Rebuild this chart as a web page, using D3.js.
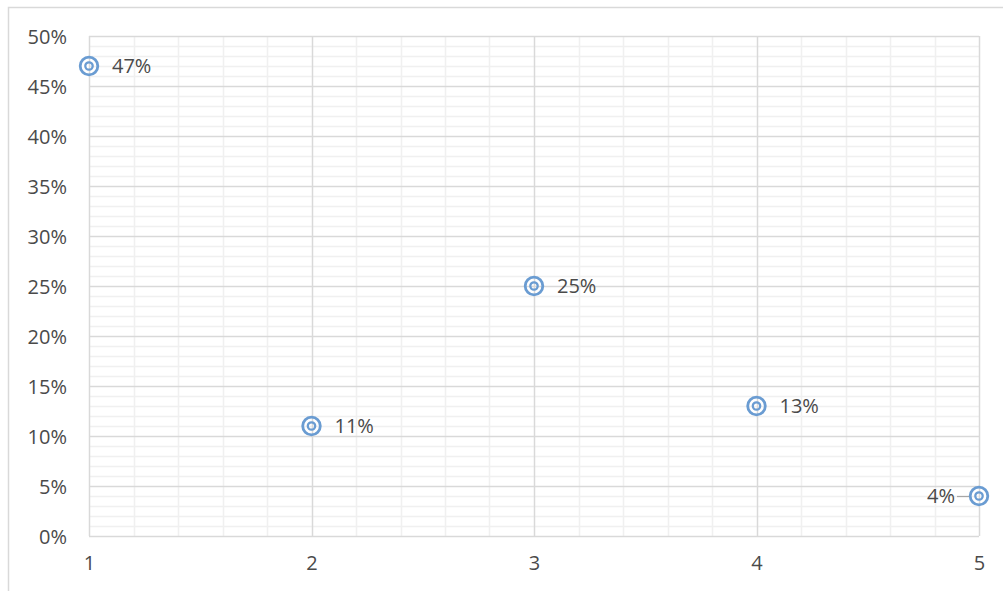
<!DOCTYPE html>
<html>
<head>
<meta charset="utf-8">
<script src="https://cdn.jsdelivr.net/npm/d3@7"></script>
<style>
  html, body { margin: 0; padding: 0; background: #fff; }
  svg { display: block; }
  text { font-family: "Open Sans", "Noto Sans", sans-serif; fill: #4a4a4a; }
</style>
</head>
<body>
<svg id="chart" width="1003" height="591"></svg>
<script>
// Series data
const xValues = [1, 2, 3, 4, 5];
const yValues = [0.47, 0.11, 0.25, 0.13, 0.04];
const labelSide = ["right", "right", "right", "right", "left"];

// Axis ticks
const xTicks = [1, 2, 3, 4, 5];
const yTicks = [0, 0.05, 0.10, 0.15, 0.20, 0.25, 0.30, 0.35, 0.40, 0.45, 0.50];

const W = 1003, H = 591;
const plot = { left: 89, right: 979, top: 36, bottom: 536 };
const fontSize = "20px";
const textColor = "#4a4a4a";

const svg = d3.select("#chart");

// Chart area border
svg.append("rect")
  .attr("x", 8.5).attr("y", 7.5)
  .attr("width", W + 10).attr("height", H + 10)
  .attr("fill", "#fff")
  .attr("stroke", "#d9d9d9").attr("stroke-width", 1.5);

const x = d3.scaleLinear().domain([1, 5]).range([plot.left, plot.right]);
const y = d3.scaleLinear().domain([0, 0.5]).range([plot.bottom, plot.top]);

const grid = svg.append("g");

// Minor gridlines
const xMinor = d3.range(1, 5.0001, 0.2).filter(v => Math.abs(v - Math.round(v)) > 1e-6);
const yMinor = d3.range(0, 0.5001, 0.01).filter(v => Math.abs(v * 20 - Math.round(v * 20)) > 1e-6);

grid.selectAll(".xminor").data(xMinor).join("line")
  .attr("x1", d => Math.round(x(d)) + 0.5).attr("x2", d => Math.round(x(d)) + 0.5)
  .attr("y1", plot.top).attr("y2", plot.bottom)
  .attr("stroke", "#f0f0f0").attr("stroke-width", 1.5);

grid.selectAll(".yminor").data(yMinor).join("line")
  .attr("x1", plot.left).attr("x2", plot.right)
  .attr("y1", d => Math.round(y(d)) + 0.5).attr("y2", d => Math.round(y(d)) + 0.5)
  .attr("stroke", "#f0f0f0").attr("stroke-width", 1.5);

// Major gridlines
grid.selectAll(".ymajor").data(yTicks).join("line")
  .attr("x1", plot.left).attr("x2", plot.right)
  .attr("y1", d => Math.round(y(d)) + 0.5).attr("y2", d => Math.round(y(d)) + 0.5)
  .attr("stroke", "#d9d9d9").attr("stroke-width", 1.5);

grid.selectAll(".xmajor").data(xTicks).join("line")
  .attr("x1", d => Math.round(x(d)) + 0.5).attr("x2", d => Math.round(x(d)) + 0.5)
  .attr("y1", plot.top).attr("y2", plot.bottom)
  .attr("stroke", "#d9d9d9").attr("stroke-width", 1.5);

// Axes (labels only, no domain lines)
const yAxis = d3.axisLeft(y).tickValues(yTicks).tickSize(0).tickPadding(0)
  .tickFormat(d => Math.round(d * 100) + "%");
svg.append("g").attr("transform", `translate(${plot.left - 22},0)`)
  .call(yAxis)
  .call(g => g.select(".domain").remove())
  .call(g => g.selectAll("text")
    .style("font-family", '"Open Sans", "Noto Sans", sans-serif')
    .style("font-size", fontSize).attr("fill", textColor).attr("dy", "0.36em"));

const xAxis = d3.axisBottom(x).tickValues(xTicks).tickSize(0).tickPadding(0)
  .tickFormat(d3.format("d"));
svg.append("g").attr("transform", `translate(0,${plot.bottom + 16})`)
  .call(xAxis)
  .call(g => g.select(".domain").remove())
  .call(g => g.selectAll("text")
    .style("font-family", '"Open Sans", "Noto Sans", sans-serif')
    .style("font-size", fontSize).attr("fill", textColor).attr("dy", "0.9em"));

const points = xValues.map((v, i) => ({ x: v, y: yValues[i], side: labelSide[i] }));
const blue = "#6a9cd2";

// Leader line for left-placed labels
svg.selectAll(".leader").data(points.filter(p => p.side === "left")).join("line")
  .attr("x1", d => x(d.x) - 22).attr("x2", d => x(d.x) - 9)
  .attr("y1", d => y(d.y) + 0.5).attr("y2", d => y(d.y) + 0.5)
  .attr("stroke", "#a6a6a6").attr("stroke-width", 1.2);

// Markers: double-ring circles
const mk = svg.selectAll(".pt").data(points).join("g")
  .attr("transform", d => `translate(${x(d.x)},${y(d.y)})`);
mk.append("circle").attr("r", 8.8).attr("fill", "none")
  .attr("stroke", blue).attr("stroke-width", 2.8);
mk.append("circle").attr("r", 3.7).attr("fill", "none")
  .attr("stroke", blue).attr("stroke-width", 2.3);

// Data labels
svg.selectAll(".lbl").data(points).join("text")
  .attr("x", d => d.side === "left" ? x(d.x) - 24 : x(d.x) + 23)
  .attr("y", d => y(d.y))
  .attr("dy", "0.36em")
  .attr("text-anchor", d => d.side === "left" ? "end" : "start")
  .style("font-size", fontSize)
  .attr("fill", textColor)
  .text(d => Math.round(d.y * 100) + "%");
</script>
</body>
</html>
